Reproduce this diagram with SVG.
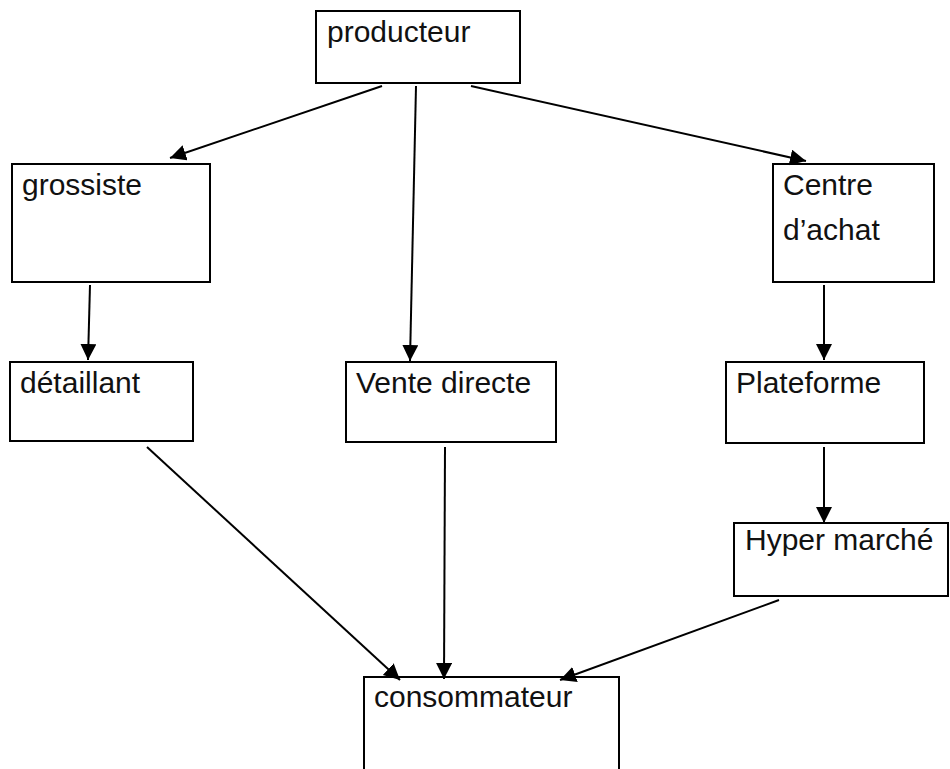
<svg xmlns="http://www.w3.org/2000/svg" width="950" height="769" viewBox="0 0 950 769">
  <defs>
    <style>
      .box { fill: #ffffff; stroke: #000000; stroke-width: 2; }
      .label { font-family: "Liberation Sans", Arial, sans-serif; font-size: 30px; fill: #111111; }
      .link { stroke: #000000; stroke-width: 2; fill: none; marker-end: url(#arrow); }
    </style>
    <marker id="arrow" markerUnits="userSpaceOnUse" markerWidth="18" markerHeight="18" refX="16" refY="8" orient="auto">
      <path d="M0,0 L16,8 L0,16 z" fill="#000000"/>
    </marker>
  </defs>
  <rect width="950" height="769" fill="#ffffff"/>

  <g id="producteur">
    <rect class="box" x="316" y="11" width="204" height="72"/>
    <text class="label" x="327" y="42">producteur</text>
  </g>
  <g id="grossiste">
    <rect class="box" x="12" y="164" width="198" height="118"/>
    <text class="label" x="22" y="195">grossiste</text>
  </g>
  <g id="centre-achat">
    <rect class="box" x="773" y="164" width="161" height="118"/>
    <text class="label" x="783" y="195">Centre</text>
    <text class="label" x="783" y="240">d’achat</text>
  </g>
  <g id="detaillant">
    <rect class="box" x="10" y="362" width="183" height="79"/>
    <text class="label" x="20" y="393">détaillant</text>
  </g>
  <g id="vente-directe">
    <rect class="box" x="346" y="362" width="210" height="80"/>
    <text class="label" x="356" y="393">Vente directe</text>
  </g>
  <g id="plateforme">
    <rect class="box" x="726" y="362" width="198" height="81"/>
    <text class="label" x="736" y="393">Plateforme</text>
  </g>
  <g id="hyper-marche">
    <rect class="box" x="734" y="523" width="214" height="73"/>
    <text class="label" x="745" y="550">Hyper marché</text>
  </g>
  <g id="consommateur">
    <rect class="box" x="364" y="677" width="255" height="110"/>
    <text class="label" x="374" y="707">consommateur</text>
  </g>

  <g id="connectors">
    <line class="link" x1="382" y1="86" x2="170" y2="158"/>
    <line class="link" x1="416" y1="86" x2="410" y2="361"/>
    <line class="link" x1="471" y1="86" x2="806" y2="161"/>
    <line class="link" x1="90" y1="285" x2="88" y2="360"/>
    <line class="link" x1="824" y1="285" x2="824" y2="360"/>
    <line class="link" x1="824" y1="447" x2="824" y2="523"/>
    <line class="link" x1="147" y1="447" x2="400" y2="680"/>
    <line class="link" x1="445" y1="447" x2="444" y2="679"/>
    <line class="link" x1="779" y1="600" x2="560" y2="680"/>
  </g>
</svg>
